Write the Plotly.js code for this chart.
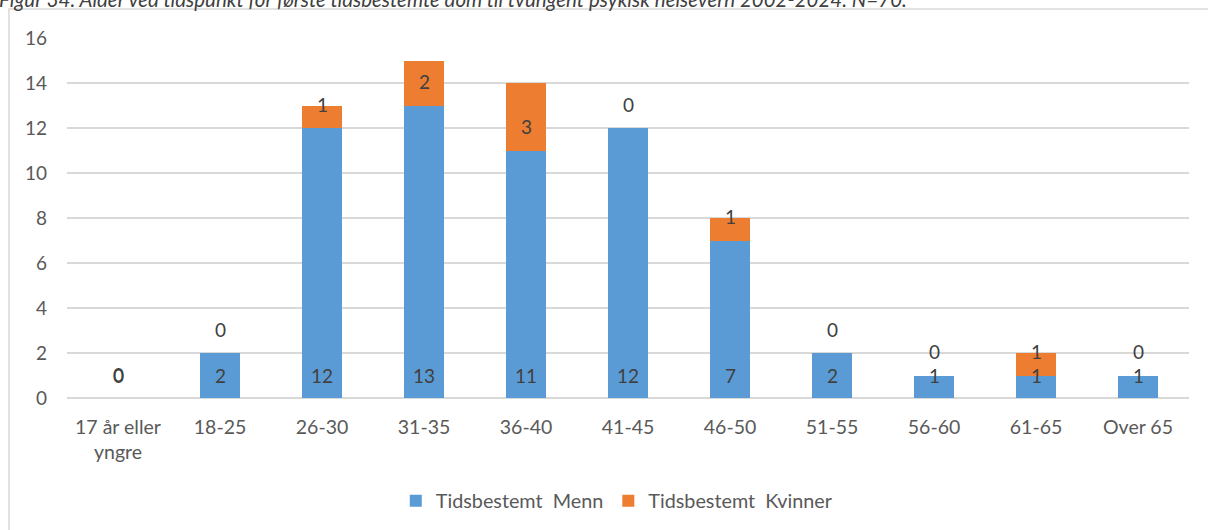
<!DOCTYPE html>
<html>
<head>
<meta charset="utf-8">
<script src="https://cdn.plot.ly/plotly-3.0.1.min.js"></script>
<style>
  html, body { margin: 0; padding: 0; background: #ffffff; overflow: hidden; }
  #chart { width: 1208px; height: 530px; }
</style>
</head>
<body>
<div id="chart"></div>
<script>
// Age groups at the first time-limited sentence
const ageGroups = ['17 år eller<br>yngre', '18-25', '26-30', '31-35', '36-40', '41-45',
                   '46-50', '51-55', '56-60', '61-65', 'Over 65'];
const menCounts   = [0, 2, 12, 13, 11, 12, 7, 2, 1, 1, 1];
const womenCounts = [0, 0, 1, 2, 3, 0, 1, 0, 0, 1, 0];
const seriesNames = ['Tidsbestemt\u00a0 Menn', 'Tidsbestemt\u00a0 Kvinner'];
const yTicks = [0, 2, 4, 6, 8, 10, 12, 14, 16];
const captionText = 'Figur 34. Alder ved tidspunkt for første tidsbestemte dom til tvungent psykisk helsevern 2002-2024. N=70.';

const BLUE = '#5b9bd5';
const ORANGE = '#ed7d31';
const TEXT = '#595959';
const GRID = '#d9d9d9';
const FONT = 'Lato, "Open Sans", sans-serif';

const traces = [
  {
    type: 'bar', name: seriesNames[0], x: ageGroups, y: menCounts,
    marker: { color: BLUE, line: { width: 0 } },
    hoverinfo: 'skip'
  },
  {
    type: 'bar', name: seriesNames[1], x: ageGroups, y: womenCounts,
    marker: { color: ORANGE, line: { width: 0 } },
    hoverinfo: 'skip'
  }
];

// Value labels sit just above the base of each segment
const annotations = [];
ageGroups.forEach((g, i) => {
  annotations.push({
    x: g, y: 0, xref: 'x', yref: 'y', text: String(menCounts[i]),
    showarrow: false, yanchor: 'middle', yshift: 23,
    font: { family: FONT, size: 19, color: '#404040' }
  });
  annotations.push({
    x: g, y: menCounts[i], xref: 'x', yref: 'y', text: String(womenCounts[i]),
    showarrow: false, yanchor: 'middle', yshift: 24,
    font: { family: FONT, size: 19, color: '#404040' }
  });
});

// Figure caption across the top edge
annotations.push({
  x: -0.062, y: 1.108, xref: 'paper', yref: 'paper', xanchor: 'left', yanchor: 'middle',
  text: '<i>' + captionText + '</i>', showarrow: false,
  font: { family: FONT, size: 20.5, color: '#404040' }
});

const layout = {
  width: 1208, height: 530,
  margin: { l: 67, r: 19, t: 38, b: 132, autoexpand: false },
  paper_bgcolor: '#ffffff', plot_bgcolor: '#ffffff',
  barmode: 'stack', bargap: 0.61,
  font: { family: FONT, color: TEXT, size: 19 },
  showlegend: true,
  legend: {
    orientation: 'h', xref: 'container', yref: 'container',
    x: 0.511, xanchor: 'center', y: 0.055, yanchor: 'middle',
    font: { family: FONT, size: 19.8, color: TEXT }, traceorder: 'normal',
    itemwidth: 30
  },
  xaxis: {
    type: 'category', showgrid: false, zeroline: false, showline: false,
    ticks: '', tickfont: { family: FONT, size: 19.5, color: TEXT }, ticklabelstandoff: 15,
    fixedrange: true
  },
  yaxis: {
    range: [0, 16], tickvals: yTicks, ticktext: yTicks.map(String),
    showgrid: true, gridcolor: GRID, gridwidth: 1.5, zeroline: true, zerolinecolor: GRID, zerolinewidth: 1.5,
    showline: false, ticks: '', tickfont: { family: FONT, size: 19, color: TEXT }, ticklabelstandoff: 19,
    fixedrange: true
  },
  shapes: [{
    type: 'rect', xref: 'paper', yref: 'paper',
    x0: -0.0517, x1: 1.05, y0: -0.6, y1: 1.0806,
    line: { color: GRID, width: 1.5 }, fillcolor: 'rgba(0,0,0,0)', layer: 'below'
  }],
  annotations: annotations
};

Plotly.newPlot('chart', traces, layout, { displayModeBar: false, staticPlot: true });
</script>
</body>
</html>
